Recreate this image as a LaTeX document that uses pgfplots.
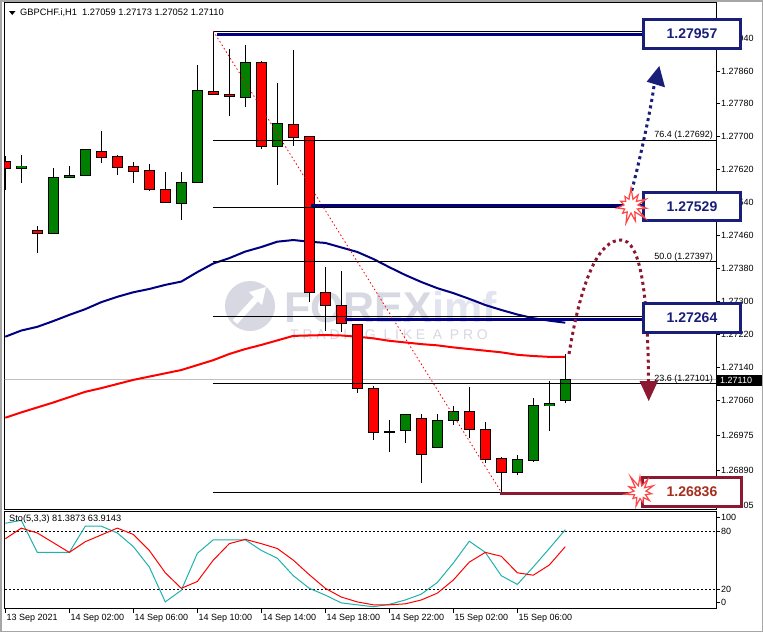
\documentclass[border=0pt]{standalone}
\usepackage{pgfplots}
\pgfplotsset{compat=1.18}
\usepackage{pgfplotstable}
\usepackage{fontspec}
\setmainfont{Liberation Sans}
\usetikzlibrary{shapes.symbols}

\definecolor{navyb}{RGB}{0,0,128}
\definecolor{boxnavy}{RGB}{25,30,120}
\definecolor{maroonb}{RGB}{139,25,50}
\definecolor{txtred}{RGB}{165,45,30}
\definecolor{cgreen}{RGB}{0,128,0}
\definecolor{cred}{RGB}{255,0,0}
\definecolor{teal2}{RGB}{32,178,170}
\definecolor{wm}{RGB}{215,216,226}
\definecolor{wm2}{RGB}{226,229,240}
\definecolor{starred}{RGB}{255,70,70}
\definecolor{pline}{RGB}{192,192,192}

% bullish candles
\pgfplotstableread{
k O H L C
1 1.27623 1.27656 1.27588 1.27629
3 1.27465 1.27623 1.27465 1.27602
4 1.27602 1.27629 1.27600 1.27607
5 1.27606 1.27670 1.27606 1.27668
11 1.27538 1.27614 1.27498 1.27589
12 1.27589 1.27875 1.27589 1.27813
15 1.27796 1.27923 1.27773 1.27881
17 1.27677 1.27831 1.27584 1.27732
25 1.26986 1.27025 1.26956 1.27025
27 1.26945 1.27026 1.26945 1.27011
28 1.27011 1.27045 1.27000 1.27032
32 1.26884 1.26926 1.26878 1.26916
33 1.26914 1.27066 1.26910 1.27047
34 1.27046 1.27106 1.26985 1.27052
35 1.27059 1.27173 1.27052 1.27110
}\bull

% bearish candles (and doji)
\pgfplotstableread{
k O H L C
0 1.27640 1.27653 1.27571 1.27624
2 1.27473 1.27483 1.27417 1.27465
6 1.27665 1.27714 1.27637 1.27650
7 1.27651 1.27655 1.27607 1.27626
8 1.27627 1.27639 1.27588 1.27615
9 1.27619 1.27634 1.27569 1.27571
10 1.27572 1.27614 1.27541 1.27541
13 1.27811 1.27957 1.27801 1.27803
14 1.27803 1.27913 1.27751 1.27798
16 1.27881 1.27884 1.27670 1.27676
18 1.27730 1.27910 1.27678 1.27699
19 1.27700 1.27702 1.27299 1.27322
20 1.27321 1.27383 1.27228 1.27290
21 1.27290 1.27374 1.27226 1.27245
22 1.27244 1.27246 1.27078 1.27089
23 1.27089 1.27094 1.26963 1.26982
24 1.26983 1.27011 1.26934 1.26983
26 1.27016 1.27027 1.26859 1.26928
29 1.27033 1.27092 1.26967 1.26989
30 1.26989 1.27007 1.26906 1.26916
31 1.26918 1.26922 1.26836 1.26884
}\bear

% moving averages
\pgfplotstableread{
k b r
0 1.27214 1.27017
1 1.27229 1.27030
2 1.27238 1.27042
3 1.27252 1.27054
4 1.27267 1.27067
5 1.27281 1.27080
6 1.27298 1.27089
7 1.27311 1.27099
8 1.27322 1.27109
9 1.27330 1.27117
10 1.27340 1.27125
11 1.27348 1.27133
12 1.27371 1.27145
13 1.27392 1.27157
14 1.27405 1.27172
15 1.27421 1.27184
16 1.27432 1.27194
17 1.27445 1.27205
18 1.27449 1.27216
19 1.27445 1.27217
20 1.27442 1.27218
21 1.27431 1.27217
22 1.27420 1.27214
23 1.27403 1.27210
24 1.27383 1.27204
25 1.27364 1.27200
26 1.27347 1.27196
27 1.27332 1.27193
28 1.27320 1.27188
29 1.27306 1.27184
30 1.27291 1.27180
31 1.27279 1.27176
32 1.27268 1.27170
33 1.27259 1.27167
34 1.27253 1.27165
35 1.27248 1.27165
}\ma

% stochastic (5,3,3)
\pgfplotstableread{
k K D
0 88 72
1 91 83
2 58 78
3 58 68
4 58 58
5 85 69
6 85 76
7 78 83
8 64 76.5
9 43 60
10 7 37
11 19 21
12 57 28
13 71 50
14 71 67
15 71 71.4
16 60 67
17 52 62
18 34 50
19 21 35
20 14 21
21 6 12
22 4 7
23 2 4
24 4.5 4
25 9 5
26 15 9
27 27 16
28 47 29.5
29 69.5 48
30 58 58
31 34 54
32 25 37
33 43 34.5
34 62 45
35 81.39 63.91
}\sto

\pgfplotsset{pip/.style={y filter/.expression={(y-1.26)*100000}}}
\newcommand\sm{\fontsize{9}{10.5}\selectfont}

\begin{document}
\begin{tikzpicture}[x=1pt,y=-1pt]
\useasboundingbox (0,0) rectangle (763,632);
\fill[white] (0,0) rectangle (763,632);

% watermark
\fill[wm] (250,306) circle (25pt);
\draw[white, line width=6pt] (235,322) -- (256,299);
\fill[white] (249,292) -- (266,287) -- (262,305) -- cycle;
\node[anchor=base west, inner sep=0pt, text=wm] at (284,322.4) {\rlap{\bfseries\fontsize{43}{43}\selectfont FOREX\textcolor{wm2}{imf}}\raisebox{-17pt}{\hspace{6pt}\fontsize{14}{14}\selectfont\addfontfeature{LetterSpace=27}TRADING LIKE A PRO}};

% ---------------- main price panel ----------------
\begin{axis}[
  at={(4.5pt,-509pt)}, anchor=south west, scale only axis,
  width=711.5pt, height=506.5pt,
  xmin=-0.05, xmax=44.419, ymin=795.1, ymax=2026.5,
  axis line style={black, line width=1pt},
  xtick=\empty,
  ytick={805,890,975,1060,1140,1220,1300,1380,1460,1540,1620,1700,1780,1860,1940},
  yticklabels={1.26805,1.26890,1.26975,1.27060,1.27140,1.27220,1.27300,1.27380,1.27460,1.27540,1.27620,1.27700,1.27780,1.27860,1.27940},
  ytick pos=right, yticklabel pos=right,
  tick align=outside, major tick length=4pt,
  ytick style={black, line width=0.8pt},
  yticklabel style={font=\sm, anchor=west, inner sep=0pt, xshift=1pt},
  clip=true,
]
% current price line
\addplot[pline, line width=0.8pt, pip] coordinates {(-1,1.27110) (45,1.27110)};
% moving averages
\addplot[navyb, line width=2pt] table[x=k, y expr={(\thisrow{b}-1.26)*100000}] {\ma};
\addplot[cred, line width=2pt] table[x=k, y expr={(\thisrow{r}-1.26)*100000}] {\ma};
% wicks
\addplot[draw=none, mark=none, error bars/.cd, y dir=both, y explicit, error mark=none,
  error bar style={draw=black, solid, line width=1pt}]
  table[x=k, y expr={((\thisrow{H}-1.26)+(\thisrow{L}-1.26))*50000}, y error expr={(\thisrow{H}-\thisrow{L})*50000}] {\bull};
\addplot[draw=none, mark=none, error bars/.cd, y dir=both, y explicit, error mark=none,
  error bar style={draw=black, solid, line width=1pt}]
  table[x=k, y expr={((\thisrow{H}-1.26)+(\thisrow{L}-1.26))*50000}, y error expr={(\thisrow{H}-\thisrow{L})*50000}] {\bear};
% bodies: outline
\addplot[draw=none, mark=none, error bars/.cd, y dir=both, y explicit, error mark=none,
  error bar style={draw=black, solid, line width=11pt}]
  table[x=k, y expr={((\thisrow{O}-1.26)+(\thisrow{C}-1.26))*50000}, y error expr={abs(\thisrow{C}-\thisrow{O})*50000+1.2}] {\bull};
\addplot[draw=none, mark=none, error bars/.cd, y dir=both, y explicit, error mark=none,
  error bar style={draw=black, solid, line width=11pt}]
  table[x=k, y expr={((\thisrow{O}-1.26)+(\thisrow{C}-1.26))*50000}, y error expr={abs(\thisrow{C}-\thisrow{O})*50000+1.2}] {\bear};
% bodies: fill
\addplot[draw=none, mark=none, error bars/.cd, y dir=both, y explicit, error mark=none,
  error bar style={draw=cgreen, solid, line width=9pt}]
  table[x=k, y expr={((\thisrow{O}-1.26)+(\thisrow{C}-1.26))*50000}, y error expr={max(abs(\thisrow{C}-\thisrow{O})*50000-1.2,0)}] {\bull};
\addplot[draw=none, mark=none, error bars/.cd, y dir=both, y explicit, error mark=none,
  error bar style={draw=cred, solid, line width=9pt}]
  table[x=k, y expr={((\thisrow{O}-1.26)+(\thisrow{C}-1.26))*50000}, y error expr={max(abs(\thisrow{C}-\thisrow{O})*50000-1.2,0)}] {\bear};
% fibonacci levels
\addplot[black, line width=0.8pt, pip] coordinates {(12.98,1.27957) (45,1.27957)};
\addplot[black, line width=0.8pt, pip] coordinates {(12.98,1.27692) (45,1.27692)};
\addplot[black, line width=0.8pt, pip] coordinates {(12.98,1.27529) (45,1.27529)};
\addplot[black, line width=0.8pt, pip] coordinates {(12.98,1.27397) (45,1.27397)};
\addplot[black, line width=0.8pt, pip] coordinates {(12.98,1.27264) (45,1.27264)};
\addplot[black, line width=0.8pt, pip] coordinates {(12.98,1.27101) (45,1.27101)};
\addplot[black, line width=0.8pt, pip] coordinates {(12.98,1.26836) (45,1.26836)};
% fibonacci trend line
\addplot[cred, line width=0.8pt, dash pattern=on 1.5pt off 2.5pt, pip] coordinates {(13,1.27957) (31,1.26836)};
% key level lines
\addplot[navyb, line width=3pt, pip] coordinates {(13.23,1.27949) (40.2,1.27949)};
\addplot[navyb, line width=3pt, pip] coordinates {(19.1,1.27532) (40.2,1.27532)};
\addplot[navyb, line width=3pt, pip] coordinates {(21.2,1.27256) (40.2,1.27256)};
\addplot[maroonb, line width=3pt, pip] coordinates {(30.9,1.26833) (39.8,1.26833)};
\end{axis}

% ---------------- stochastic panel ----------------
\begin{axis}[
  at={(4.5pt,-608.7pt)}, anchor=south west, scale only axis,
  width=711.5pt, height=97.1pt,
  xmin=-0.05, xmax=44.419, ymin=0, ymax=100,
  axis line style={black, line width=1pt},
  xtick={0,4,8,12,16,20,24,28,32},
  xticklabels={13 Sep 2021,14 Sep 02:00,14 Sep 06:00,14 Sep 10:00,14 Sep 14:00,14 Sep 18:00,14 Sep 22:00,15 Sep 02:00,15 Sep 06:00},
  xtick pos=bottom,
  xticklabel style={font=\sm, anchor=north west, inner sep=0pt, xshift=1pt, yshift=-1pt},
  ytick={94,80,20,6}, yticklabels={100,80,20,0},
  ytick pos=right, yticklabel pos=right,
  tick align=outside, major tick length=4pt,
  tick style={black, line width=0.8pt},
  yticklabel style={font=\sm, anchor=west, inner sep=0pt, xshift=1pt},
  clip=true,
]
\addplot[black, line width=0.8pt, dash pattern=on 2pt off 2pt] coordinates {(-1,80) (45,80)};
\addplot[black, line width=0.8pt, dash pattern=on 2pt off 2pt] coordinates {(-1,20) (45,20)};
\addplot[teal2, line width=1pt] table[x=k, y=K] {\sto};
\addplot[cred, line width=1pt] table[x=k, y=D] {\sto};
\end{axis}

% ---------------- texts and annotations ----------------
% header
\fill[black] (9,11) -- (15.5,11) -- (12.25,15) -- cycle;
\node[anchor=west, inner sep=0pt, font=\fontsize{9.3}{11}\selectfont] at (20,13) {GBPCHF.i,H1\ \ 1.27059 1.27173 1.27052 1.27110};
\node[anchor=west, inner sep=0pt, font=\fontsize{9.2}{11}\selectfont] at (9,519) {Sto(5,3,3) 81.3873 63.9143};

% fibonacci labels
\node[anchor=base east, inner sep=0pt, font=\sm] at (713,137.5) {76.4 (1.27692)};
\node[anchor=base east, inner sep=0pt, font=\sm] at (713,259.5) {50.0 (1.27397)};
\node[anchor=base east, inner sep=0pt, font=\sm] at (713,381.5) {23.6 (1.27101)};

% current price tag
\fill[black] (716.5,375) rectangle (763,385.5);
\node[anchor=west, inner sep=0pt, text=white, font=\sm] at (720,380.3) {1.27110};

% dotted arrows
\draw[maroonb, line width=3pt, dash pattern=on 3pt off 3.5pt] (569,354) .. controls (582,275) and (600,240) .. (621,240) .. controls (640,240) and (648,290) .. (648.5,382);
\fill[maroonb] (639.5,381) -- (658,381) -- (648.7,401) -- cycle;
\draw[boxnavy, line width=3pt, dash pattern=on 3pt off 3.5pt] (630,197) .. controls (637,172) and (650,115) .. (654,86);
\fill[boxnavy] (646.7,81.7) -- (665,87.3) -- (659.3,66) -- cycle;

% level boxes
\draw[boxnavy, line width=3pt, fill=white] (643.5,19.5) rectangle (740.5,48.5);
\node[text=boxnavy, font=\bfseries\fontsize{14}{14}\selectfont] at (692,34) {1.27957};
\draw[boxnavy, line width=3pt, fill=white] (643.5,192) rectangle (740.5,220.5);
\node[text=boxnavy, font=\bfseries\fontsize{14}{14}\selectfont] at (692,206.5) {1.27529};
\draw[boxnavy, line width=3pt, fill=white] (643.5,303) rectangle (740.5,332);
\node[text=boxnavy, font=\bfseries\fontsize{14}{14}\selectfont] at (692,317.5) {1.27264};
\draw[maroonb, line width=3pt, fill=white] (642,477.5) rectangle (741.5,506.2);
\node[text=txtred, font=\bfseries\fontsize{14}{14}\selectfont] at (692,492) {1.26836};

% starbursts
\node[starburst, draw=starred, fill=white, line width=1.2pt, minimum width=38pt, minimum height=38pt, starburst points=11, starburst point height=12pt, random starburst=7, inner sep=0pt] at (631,206) {};
\node[starburst, draw=starred, fill=white, line width=1.2pt, minimum width=36pt, minimum height=37pt, starburst points=11, starburst point height=12pt, random starburst=11, inner sep=0pt] at (640,492) {};

% window frame
\draw[gray!70, line width=1.5pt] (0.75,0.75) rectangle (762.25,631.25);
\end{tikzpicture}
\end{document}
